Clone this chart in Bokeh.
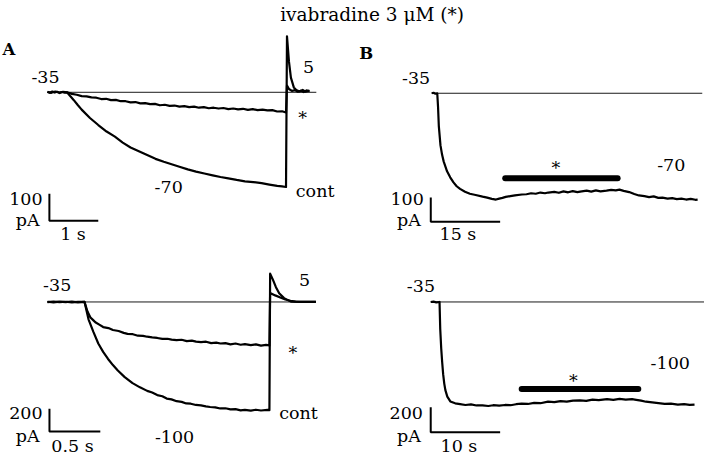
from bokeh.plotting import figure
from bokeh.models import Range1d, Label
from bokeh.embed import file_html
from bokeh.resources import INLINE

# ---------------- data (time in s, current in pA; 0 pA = holding current at -35 mV) ----------------
# Panel A, top: step -35 -> -70 mV, then tail at +5 mV
a1_t_cont = [0.00, 0.05, 0.10, 0.15, 0.20, 0.25, 0.30, 0.35, 0.40, 0.47, 0.54, 0.62, 0.70, 0.87, 1.04, 1.21,
             1.38, 1.54, 1.70, 1.87, 2.04, 2.21, 2.38, 2.54, 2.70, 2.87, 3.04, 3.21, 3.38, 3.54, 3.70, 3.87,
             4.04, 4.21, 4.38, 4.54, 4.70, 4.80, 4.88, 4.90, 4.94, 4.98, 5.04, 5.10, 5.16, 5.22, 5.28, 5.36]
a1_i_cont = [2, -2, 3, -1, 2, -3, 1, -1, 0, -15, -29, -47, -64, -95, -121, -145,
             -164, -186, -204, -218, -232, -246, -257, -266, -275, -285, -293, -300, -307, -313, -318, -324,
             -329, -332, -336, -341, -346, -348, -350, 207, 114, 54, 18, 7, 3, 9, 2, 6]
a1_t_ivb = [0.00, 0.08, 0.16, 0.24, 0.32, 0.40, 0.50, 0.60, 0.70, 0.80, 0.90, 1.00, 1.10, 1.20, 1.30, 1.40,
            1.50, 1.60, 1.70, 1.80, 1.90, 2.00, 2.10, 2.20, 2.30, 2.40, 2.50, 2.60, 2.70, 2.80, 2.90, 3.00,
            3.10, 3.20, 3.30, 3.40, 3.50, 3.60, 3.70, 3.80, 3.90, 4.00, 4.10, 4.20, 4.30, 4.40, 4.50, 4.60,
            4.70, 4.80, 4.88, 4.90, 4.94, 5.00, 5.06, 5.12, 5.18, 5.24, 5.30, 5.36]
a1_i_ivb = [1, -2, 3, -1, 2, 0, -6, -9, -14, -15, -19, -20, -25, -24, -29, -28,
            -33, -33, -37, -36, -41, -40, -44, -43, -48, -46, -50, -49, -53, -51, -55, -53,
            -57, -55, -59, -57, -60, -58, -62, -60, -63, -61, -65, -62, -66, -64, -67, -66,
            -71, -70, -75, 25, 12, 5, 8, 2, 6, 1, 7, 4]
a1_base_t = [0.0, 5.5]

# Panel A, bottom: step -35 -> -100 mV, then tail at +5 mV
a2_t_cont = [0.00, 0.06, 0.12, 0.18, 0.24, 0.30, 0.365, 0.404, 0.452, 0.50, 0.548, 0.596, 0.644, 0.692, 0.76,
             0.837, 0.91, 0.981, 1.03, 1.08, 1.13, 1.173, 1.22, 1.27, 1.32, 1.365, 1.41, 1.46, 1.51, 1.558,
             1.60, 1.65, 1.70, 1.75, 1.80, 1.85, 1.90, 1.942, 2.00, 2.05, 2.10, 2.163, 2.183, 2.19, 2.215,
             2.247, 2.279, 2.327, 2.394, 2.49, 2.57, 2.64]
a2_i_cont = [2, -4, 3, -2, 4, -3, 0, -153, -264, -366, -440, -502, -556, -604, -662,
             -715, -752, -783, -798, -820, -830, -851, -858, -874, -880, -894, -896, -907, -911, -919,
             -925, -928, -938, -936, -946, -944, -955, -950, -957, -949, -956, -951, -953, 249, 201,
             130, 77, 34, 3, 0, 2, 0]
a2_t_ivb = [0.00, 0.06, 0.12, 0.18, 0.24, 0.30, 0.365, 0.394, 0.423, 0.45, 0.471, 0.51, 0.548, 0.60, 0.644,
            0.70, 0.75, 0.788, 0.84, 0.89, 0.94, 0.981, 1.03, 1.08, 1.13, 1.18, 1.221, 1.27, 1.32, 1.37,
            1.42, 1.462, 1.51, 1.56, 1.61, 1.66, 1.702, 1.75, 1.80, 1.85, 1.90, 1.942, 2.00, 2.05, 2.10,
            2.15, 2.183, 2.19, 2.24, 2.29, 2.34, 2.39, 2.44, 2.49, 2.57, 2.64]
a2_i_ivb = [-2, 3, -1, 2, -3, 1, 0, -85, -136, -160, -179, -200, -221, -230, -247,
            -256, -272, -281, -284, -297, -299, -306, -312, -317, -325, -324, -332, -336, -333, -345,
            -341, -349, -353, -350, -362, -358, -366, -362, -373, -366, -377, -372, -380, -374, -385,
            -378, -383, 79, 58, 40, 22, 11, 4, 0, 1, 0]
a2_base_t = [0.0, 2.64]

# Panel B, top: long step to -70 mV, ivabradine applied during the bar
b1_t = [0.0, 0.4, 0.8, 1.2, 1.37, 1.54, 1.90, 2.25, 2.60, 3.32, 4.0, 4.71, 5.4, 6.13, 7.2, 8.25, 9.5, 11.0,
        12.0, 13.0, 13.9, 14.6, 15.3, 16.0, 17.0, 18.0, 19.5, 20.5, 21.5, 22.5, 23.5, 24.5, 25.2, 26.5,
        27.5, 28.5, 29.5, 30.5, 31.5, 32.1, 33.5, 34.5, 35.5, 36.5, 37.8, 38.8, 39.8, 40.6, 41.5, 42.7,
        43.8, 44.8, 46.0, 47.0, 48.0, 49.0, 49.9, 51.0, 52.0, 53.0, 54.0, 55.0, 56.0, 57.0, 57.5]
b1_i = [0, 2, -2, 0, -56, -136, -216, -255, -283, -323, -348, -369, -385, -396, -408, -416, -421, -428,
        -432, -437, -440, -436, -433, -429, -426, -423, -419, -418, -414, -416, -411, -414, -411, -408,
        -412, -406, -410, -405, -409, -407, -403, -407, -402, -406, -403, -400, -402, -399, -404, -409,
        -417, -423, -426, -430, -427, -433, -432, -436, -434, -438, -436, -440, -437, -441, -440]
b1_drug_t = [15.9, 40.2]
b1_base_t = [0.0, 58.5]

# Panel B, bottom: long step to -100 mV, ivabradine applied during the bar
b2_t = [0.0, 0.4, 0.8, 1.27, 1.37, 1.51, 1.65, 1.79, 1.95, 2.11, 2.39, 2.82, 3.52, 4.23, 5.0, 5.8, 6.6,
        7.46, 8.3, 9.0, 9.86, 10.7, 11.5, 12.3, 13.1, 14.0, 14.9, 15.8, 16.9, 17.8, 18.7, 19.6, 20.5,
        21.5, 22.4, 23.3, 24.2, 25.4, 26.3, 27.2, 28.1, 29.0, 29.6, 30.3, 31.0, 31.9, 32.8, 33.7, 34.6,
        35.6, 36.5, 37.3, 38.0]
b2_i = [0, 3, -3, 0, -215, -369, -480, -575, -650, -702, -754, -792, -807, -813, -820, -815, -824,
        -823, -828, -822, -825, -820, -822, -814, -810, -812, -803, -806, -794, -798, -789, -793, -785,
        -784, -788, -778, -782, -774, -779, -772, -778, -774, -779, -786, -794, -800, -806, -812, -810,
        -817, -814, -819, -817]
b2_drug_t = [13.1, 29.9]
b2_base_t = [0.0, 40.0]

# scale bars: (time length in s, current length in pA)
a1_bar = (1.0, 100)
a2_bar = (0.5, 200)
b1_bar = (15.0, 100)
b2_bar = (10.0, 200)

title_text = "ivabradine 3 \u03bcM (*)"

# ---------------- layout ----------------
W, H = 704, 458
RW, RH = 720, 474      # reference frame, mapped proportionally onto the canvas
FONT = "DejaVu Serif"
FS = "17.5px"

p = figure(width=W, height=H, output_backend="svg", toolbar_location=None,
           x_axis_type=None, y_axis_type=None,
           x_range=Range1d(0, RW), y_range=Range1d(RH, 0),
           min_border=0, min_border_left=0, min_border_right=0,
           min_border_top=0, min_border_bottom=0)
p.outline_line_color = None
p.background_fill_color = "white"
p.border_fill_color = "white"

# panel placement (reference frame): time 0 at X0, kx px per s; 0 pA at Y0, ky px per pA
panels = {
    "a1": (48, 50.0, 95, 0.28),
    "a2": (48, 104.0, 312, 0.1175),
    "b1": (441, 4.73, 96, 0.25),
    "b2": (440, 7.1, 312, 0.13),
}
for name, (X0, kx, Y0, ky) in panels.items():
    p.extra_x_ranges[name + "x"] = Range1d((0 - X0) / kx, (RW - X0) / kx)
    p.extra_y_ranges[name + "y"] = Range1d((Y0 - RH) / ky, Y0 / ky)


def trace(name, t, i, width=2.2):
    p.line(x=t, y=i, line_color="black", line_width=width, line_join="round",
           x_range_name=name + "x", y_range_name=name + "y")


def baseline(name, t):
    p.line(x=t, y=[0, 0], line_color="#1a1a1a", line_width=1.0,
           x_range_name=name + "x", y_range_name=name + "y")


def scalebar(name, t0, i0, bar):
    dt, di = bar
    p.line(x=[t0, t0, t0 + dt], y=[i0 + di, i0, i0], line_color="black", line_width=2.0,
           x_range_name=name + "x", y_range_name=name + "y")


def drugbar(name, t, level):
    p.line(x=t, y=[level, level], line_color="black", line_width=6, line_cap="round",
           x_range_name=name + "x", y_range_name=name + "y")


def txt(x, y, s, align="left", size=FS, bold=False):
    p.add_layout(Label(x=x, y=y, text=s, text_align=align, text_baseline="middle",
                       text_font=FONT, text_font_size=size, text_color="black",
                       text_font_style="bold" if bold else "normal"))


# baselines
baseline("a1", a1_base_t)
baseline("a2", a2_base_t)
baseline("b1", b1_base_t)
baseline("b2", b2_base_t)

# traces
trace("a1", a1_t_cont, a1_i_cont)
trace("a1", a1_t_ivb, a1_i_ivb)
trace("a2", a2_t_cont, a2_i_cont)
trace("a2", a2_t_ivb, a2_i_ivb)
trace("b1", b1_t, b1_i)
trace("b2", b2_t, b2_i)

# drug application bars
drugbar("b1", b1_drug_t, -352)
drugbar("b2", b2_drug_t, -692)

# scale bars
scalebar("a1", 0.04, -475, a1_bar)
scalebar("a2", 0.02, -1140, a2_bar)
scalebar("b1", -0.2, -532, b1_bar)
scalebar("b2", 0.0, -1038, b2_bar)

# texts (reference-frame positions, vertical centres)
txt(286, 14, title_text, size="18.5px")
txt(2, 51, "A", size="16.5px", bold=True)
txt(367, 55, "B", size="16.5px", bold=True)

# A top
txt(46, 79, "-35", "center")
txt(315, 69, "5", "center")
txt(309, 122, "*", "center")
txt(172, 193, "-70", "center")
txt(302, 197, "cont")
txt(43, 205, "%d" % a1_bar[1], "right")
txt(40, 227, "pA", "right")
txt(61, 242, "%g s" % a1_bar[0])

# A bottom
txt(58, 294, "-35", "center")
txt(311, 289, "5", "center")
txt(299, 365, "*", "center")
txt(285, 427, "cont")
txt(178, 452, "-100", "center")
txt(43, 427, "%d" % a2_bar[1], "right")
txt(40, 451, "pA", "right")
txt(52, 461, "%g s" % a2_bar[0])

# B top
txt(425, 80, "-35", "center")
txt(568, 173, "*", "center")
txt(686, 170, "-70", "center")
txt(433, 205, "%d" % b1_bar[1], "right")
txt(430, 227, "pA", "right")
txt(449, 242, "%g s" % b1_bar[0])

# B bottom
txt(430, 295, "-35", "center")
txt(586, 394, "*", "center")
txt(685, 375, "-100", "center")
txt(432, 427, "%d" % b2_bar[1], "right")
txt(430, 451, "pA", "right")
txt(450, 461, "%g s" % b2_bar[0])

open("out.html", "w").write(file_html(p, INLINE))
